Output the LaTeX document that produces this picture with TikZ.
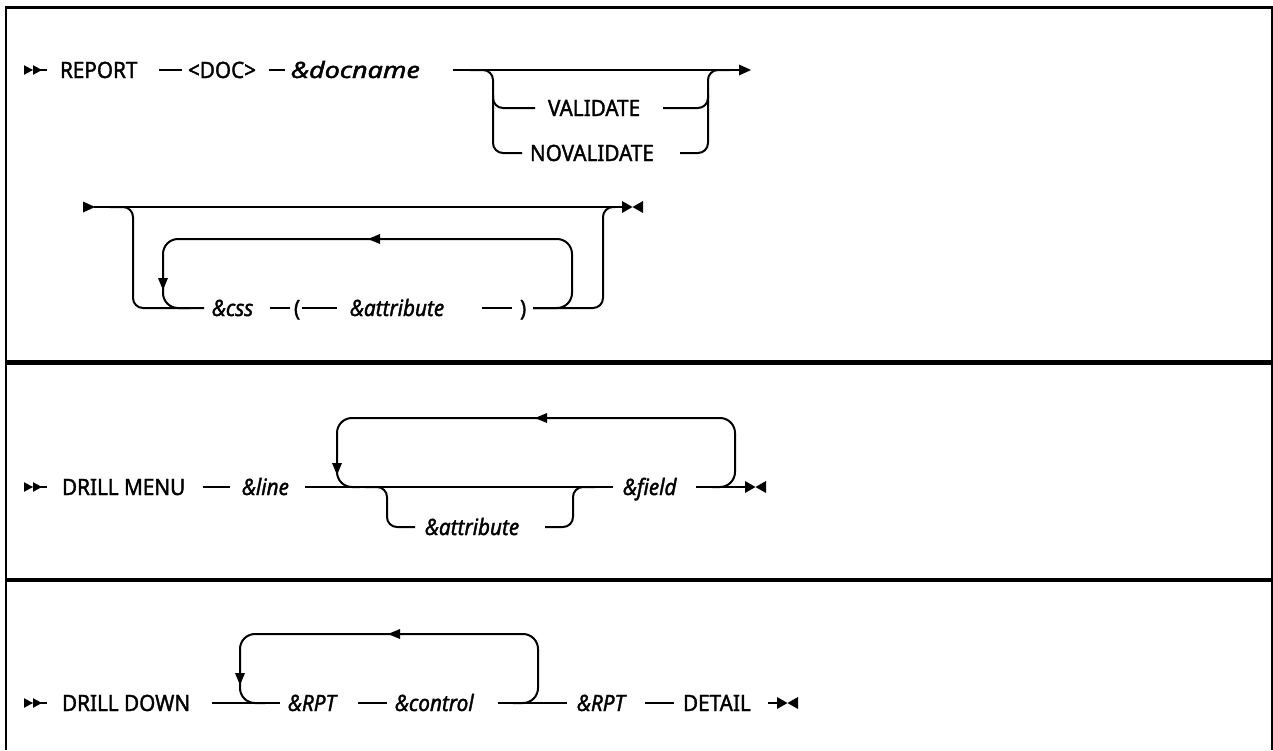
\documentclass[tikz,border=0pt]{standalone}
\usepackage{fontspec}
\setmainfont{Noto Sans}[FakeBold=1.6,FakeStretch=0.92]
\usepackage{graphicx}
\tikzset{
 pics/tipR/.style={code={\fill (0pt,0pt) -- (-12pt,5.5pt) -- (-12pt,-5.5pt) -- cycle;}},
 pics/tipL/.style={code={\fill (0pt,0pt) -- (12pt,5pt) -- (12pt,-5pt) -- cycle;}},
 pics/tipD/.style={code={\fill (0pt,0pt) -- (-5pt,12pt) -- (5pt,12pt) -- cycle;}},
 pics/startdbl/.style={code={
   \fill (0pt,4.8pt) -- (9pt,0pt) -- (0pt,-4.8pt) -- cycle;
   \fill (9pt,4.8pt) -- (18pt,0pt) -- (9pt,-4.8pt) -- cycle;
   \draw (9pt,0pt) -- (23pt,0pt);}},
 pics/bowtie/.style={code={
   \fill (0pt,6pt) -- (10.5pt,0pt) -- (0pt,-6pt) -- cycle;
   \fill (21pt,6pt) -- (10.5pt,0pt) -- (21pt,-6pt) -- cycle;}},
}
\begin{document}
\begin{tikzpicture}[x=1pt,y=-1pt,line width=2pt,
  lbl/.style={anchor=base west,inner sep=0pt,font=\fontsize{22.5}{26}\selectfont},
  var/.style={anchor=base west,inner sep=0pt,font=\fontsize{22.5}{26}\selectfont\itshape},
  rr/.style={rounded corners=10pt},
  lp/.style={rounded corners=15pt}]
\useasboundingbox (0,0) rectangle (1273,750);
% frame
\draw[line width=2pt] (6,7) -- (6,750);
\draw[line width=2pt] (1272,7) -- (1272,750);
\draw[line width=3pt] (5,7.5) -- (1273,7.5);
\draw[line width=4.5pt] (6,362.5) -- (1272,362.5);
\draw[line width=4pt] (6,579.5) -- (1272,579.5);

% ---- section 1, row 1
\pic at (24,70) {startdbl};
\node[lbl] (report) at (59,78) {REPORT};
\draw (159,70) -- (182,70);
\node[lbl] (doc) at (187,78) {<DOC>};
\draw (269,70) -- (285,70);
\node[var] (docname) at (290,78) {\scalebox{1.3}[1]{\&docname}};
\draw (453,70) -- (740,70);
\pic at (751,70) {tipR};
\draw[rr] (470,70) -- (493,70) -- (493,153) -- (522,153);
\draw[rr] (493,95) -- (493,108) -- (535,108);
\node[lbl] (val) at (547,116) {VALIDATE};
\node[lbl] (noval) at (529,161) {NOVALIDATE};
\draw[rr] (663,108) -- (708,108) -- (708,70) -- (730,70);
\draw[rr] (680,153) -- (708,153) -- (708,95);

% ---- section 1, row 2
\pic at (95,207) {tipR};
\draw (94,207) -- (623,207);
\draw[rr] (110,207) -- (133,207) -- (133,308) -- (204,308);
\draw[lp] (190,308) -- (163,308) -- (163,239) -- (572,239) -- (572,308) -- (533,308);
\pic at (163,290) {tipD};
\pic at (368,239) {tipL};
\node[var] (css) at (211,316) {\&css};
\draw (270,308) -- (290,308);
\node[lbl] (lpar) at (293,316) {(};
\draw (302,308) -- (337,308);
\node[var] (attr1) at (349,316) {\&attribute};
\draw (482,308) -- (512,308);
\node[lbl] (rpar) at (519,316) {)};
\draw[rr] (533,308) -- (603,308) -- (603,207) -- (615,207);
\pic at (622,207) {bowtie};

% ---- section 2
\pic at (24,487) {startdbl};
\node[lbl] (menu) at (61,495) {DRILL MENU};
\draw (203,487) -- (230,487);
\node[var] (line) at (241,495) {\&line};
\draw (305,487) -- (613,487);
\node[var] (field) at (622,495) {\&field};
\draw (696,487) -- (746,487);
\pic at (745,487) {bowtie};
\draw[lp] (360,487) -- (337,487) -- (337,418) -- (735,418) -- (735,487) -- (712,487);
\pic at (337,475) {tipD};
\pic at (535,418) {tipL};
\draw[rr] (365,487) -- (387,487) -- (387,527) -- (415,527);
\node[var] (attr2) at (424,535) {\&attribute};
\draw[rr] (545,527) -- (573,527) -- (573,487) -- (595,487);

% ---- section 3
\pic at (24,703) {startdbl};
\node[lbl] (down) at (61,711) {DRILL DOWN};
\draw (212,703) -- (280,703);
\node[var] (rpt1) at (287,711) {\&RPT};
\draw (358,703) -- (387,703);
\node[var] (ctrl) at (394,711) {\&control};
\draw (498,703) -- (567,703);
\node[var] (rpt2) at (576,711) {\&RPT};
\draw (645,703) -- (674,703);
\node[lbl] (detail) at (682,711) {DETAIL};
\draw (768,703) -- (778,703);
\pic at (777,703) {bowtie};
\draw[lp] (265,703) -- (240,703) -- (240,634) -- (538,634) -- (538,703) -- (513,703);
\pic at (240,685) {tipD};
\pic at (388,634) {tipL};
\end{tikzpicture}
\end{document}
